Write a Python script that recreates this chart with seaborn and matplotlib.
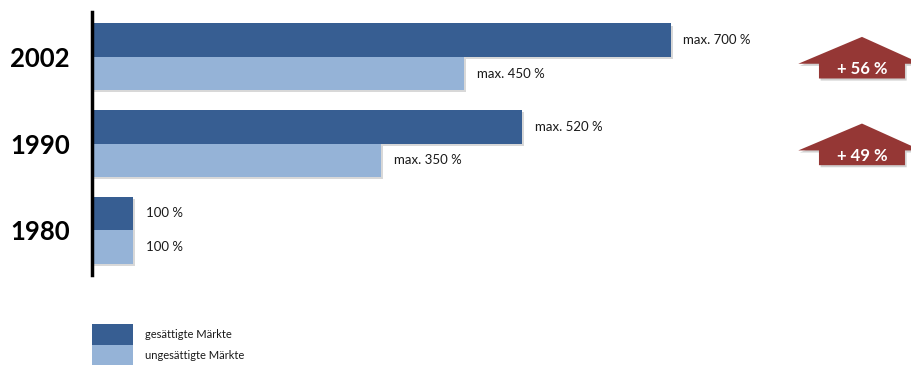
import numpy as np
import pandas as pd
import seaborn as sns
import matplotlib.pyplot as plt
from matplotlib.patches import Polygon, Patch
import matplotlib.patheffects as pe

# Daten
jahre = ['2002', '1990', '1980']
maerkte = ['gesättigte Märkte', 'ungesättigte Märkte']
# Balkenlängen wie im Bild gezeichnet (1980 ist verkürzt dargestellt)
laenge_gesaettigt = [700, 520, 50]
laenge_ungesaettigt = [450, 350, 50]
text_gesaettigt = ['max. 700 %', 'max. 520 %', '100 %']
text_ungesaettigt = ['max. 450 %', 'max. 350 %', '100 %']
zuwachs = ['+ 56 %', '+ 49 %']

farben = {'gesättigte Märkte': '#375E92', 'ungesättigte Märkte': '#95B3D7'}
pfeil_farbe = '#953735'

df = pd.DataFrame({
    'jahr': jahre * 2,
    'markt': [maerkte[0]] * 3 + [maerkte[1]] * 3,
    'wert': laenge_gesaettigt + laenge_ungesaettigt,
    'label': text_gesaettigt + text_ungesaettigt,
})

sns.set_style('white')
plt.rcParams['font.family'] = ['Lato', 'DejaVu Sans']

fig = plt.figure(figsize=(9.12, 3.65), dpi=100)
ax = fig.add_axes([92 / 912, (365 - 275) / 365, 820 / 912, 263 / 365])

sns.barplot(data=df, x='wert', y='jahr', hue='markt', order=jahre,
            hue_order=maerkte, palette=farben, width=0.77, orient='h',
            legend=False, ax=ax, saturation=1)

schatten = [pe.SimplePatchShadow(offset=(1.2, -1.5), shadow_rgbFace='#aaaaaa', alpha=0.45), pe.Normal()]
for cont, markt in zip(ax.containers, maerkte):
    texte = df[df['markt'] == markt]['label'].tolist()
    for bar, txt in zip(cont, texte):
        bar.set_path_effects(schatten)
        bar.set_edgecolor('none')
        ax.annotate(txt, (bar.get_width(), bar.get_y() + bar.get_height() / 2),
                    xytext=(9, 0), textcoords='offset points', va='center',
                    ha='left', fontsize=9.5, color='#1a1a1a')

ax.set_xlim(0, 991.5)
ax.set_ylim(2.517, -0.517)
ax.set_xlabel('')
ax.set_ylabel('')
ax.set_xticks([])
ax.tick_params(axis='y', length=0, pad=16)
for lab in ax.get_yticklabels():
    lab.set_fontsize(18.5)
    lab.set_fontweight('bold')
    lab.set_color('black')
for s in ['top', 'right', 'bottom']:
    ax.spines[s].set_visible(False)
ax.spines['left'].set_color('black')
ax.spines['left'].set_linewidth(2.5)

# Zuwachs-Pfeile
for i, txt in enumerate(zuwachs):
    spitze, fluegel, unten = i - 0.23, i + 0.08, i + 0.25
    pts = [(931, spitze), (1003, fluegel), (983, fluegel), (983, unten),
           (879, unten), (879, fluegel), (854, fluegel)]
    poly = Polygon(pts, closed=True, facecolor=pfeil_farbe, edgecolor='none',
                   clip_on=False, zorder=3,
                   path_effects=[pe.SimplePatchShadow(offset=(1.2, -1.5), shadow_rgbFace='#999999', alpha=0.45), pe.Normal()])
    ax.add_patch(poly)
    ax.text(931, i + 0.14, txt, color='white', fontsize=12, fontweight='bold',
            ha='center', va='center', zorder=4, clip_on=False)

handles = [Patch(facecolor=farben[m], edgecolor='none') for m in maerkte]
fig.legend(handles, maerkte, loc='upper left', bbox_to_anchor=(92 / 912, 1 - 324 / 365),
           frameon=False, fontsize=8, handlelength=3.7, handleheight=2.5,
           labelspacing=0, handletextpad=1.1, borderpad=0, borderaxespad=0,
           labelcolor='#1a1a1a')

fig.savefig('out.png', dpi=100)
